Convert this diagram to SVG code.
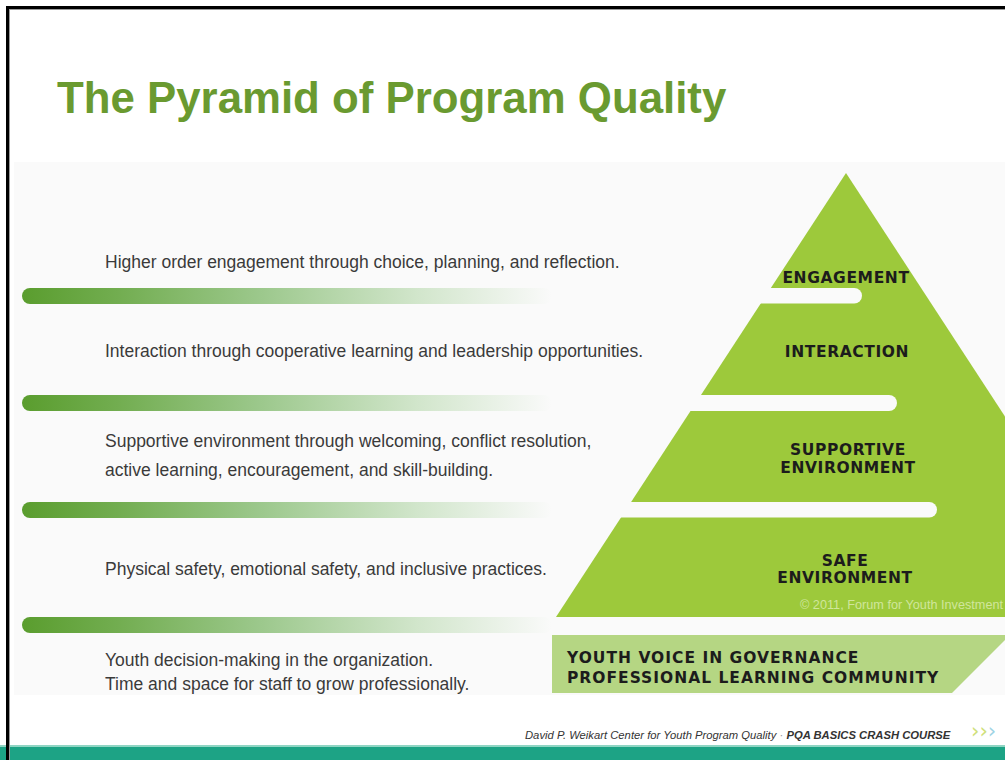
<svg xmlns="http://www.w3.org/2000/svg" width="1005" height="760" viewBox="0 0 1005 760">
  <defs>
    <linearGradient id="barGrad" x1="0" y1="0" x2="1" y2="0">
      <stop offset="0" stop-color="#5a9d2e"/>
      <stop offset="0.18" stop-color="#72ad50"/>
      <stop offset="0.45" stop-color="#9cc88c"/>
      <stop offset="0.75" stop-color="#d2e6cc"/>
      <stop offset="1" stop-color="#fafafa"/>
    </linearGradient>
    <style>
      .desc { font-family: "Liberation Sans", Arial, sans-serif; font-size: 17.5px; fill: #3a3a3a; }
      .tier { font-family: "DejaVu Sans", sans-serif; font-weight: bold; font-size: 15.5px; letter-spacing: 0.6px; fill: #1c1c1c; text-anchor: middle; }
      .base { font-family: "DejaVu Sans", sans-serif; font-weight: bold; font-size: 15.5px; letter-spacing: 1px; fill: #1c1c1c; }
      .bar { fill: url(#barGrad); }
      .gap { fill: #fafafa; }
    </style>
  </defs>

  <!-- page -->
  <rect x="0" y="0" width="1005" height="760" fill="#ffffff"/>
  <rect x="14" y="162" width="991" height="533" fill="#fafafa"/>

  <!-- title -->
  <text x="57" y="113" font-family="Liberation Sans, Arial, sans-serif" font-weight="bold" font-size="43.8" fill="#6a9a30">The Pyramid of Program Quality</text>

  <!-- gradient divider bars -->
  <g id="dividers">
    <rect class="bar" x="22" y="288" width="530" height="16" rx="8"/>
    <rect class="bar" x="22" y="395" width="530" height="16" rx="8"/>
    <rect class="bar" x="22" y="502" width="530" height="16" rx="8"/>
    <rect class="bar" x="22" y="617" width="530" height="16" rx="8"/>
  </g>

  <!-- descriptions -->
  <g id="descriptions">
    <text class="desc" x="105" y="268">Higher order engagement through choice, planning, and reflection.</text>
    <text class="desc" x="105" y="357">Interaction through cooperative learning and leadership opportunities.</text>
    <text class="desc" x="105" y="447">Supportive environment through welcoming, conflict resolution,</text>
    <text class="desc" x="105" y="476">active learning, encouragement, and skill-building.</text>
    <text class="desc" x="105" y="575">Physical safety, emotional safety, and inclusive practices.</text>
    <text class="desc" x="105" y="666">Youth decision-making in the organization.</text>
    <text class="desc" x="105" y="690">Time and space for staff to grow professionally.</text>
  </g>

  <!-- pyramid -->
  <g id="pyramid">
    <polygon points="846,173 556,617 1136,617" fill="#9dc93b"/>
    <rect class="gap" x="600" y="288" width="262" height="15.5" rx="7.75"/>
    <rect class="gap" x="600" y="395" width="297" height="16" rx="8"/>
    <rect class="gap" x="600" y="502" width="337" height="15.5" rx="7.75"/>
  </g>

  <g id="tier-engagement">
    <text class="tier" x="846" y="283">ENGAGEMENT</text>
  </g>
  <g id="tier-interaction">
    <text class="tier" x="847" y="357">INTERACTION</text>
  </g>
  <g id="tier-supportive">
    <text class="tier" x="848" y="455">SUPPORTIVE</text>
    <text class="tier" x="848" y="473">ENVIRONMENT</text>
  </g>
  <g id="tier-safe">
    <text class="tier" x="845" y="566">SAFE</text>
    <text class="tier" x="845" y="583">ENVIRONMENT</text>
    <text x="800" y="609" font-family="Liberation Sans, Arial, sans-serif" font-size="12.7" fill="#d0e69c">© 2011, Forum for Youth Investment</text>
  </g>

  <g id="tier-base">
    <polygon points="552,635 1010,635 952,693 552,693" fill="#b5d683"/>
    <text class="base" x="567" y="663">YOUTH VOICE IN GOVERNANCE</text>
    <text class="base" x="567" y="683">PROFESSIONAL LEARNING COMMUNITY</text>
  </g>

  <!-- footer -->
  <text x="525" y="739" font-family="Liberation Sans, Arial, sans-serif" font-style="italic" font-size="11.25" fill="#333333">David P. Weikart Center for Youth Program Quality <tspan fill="#999999">·</tspan> <tspan font-weight="bold">PQA BASICS CRASH COURSE</tspan></text>
  <text x="971" y="738" font-family="DejaVu Sans, sans-serif" font-size="21" fill="#cfe07a">››<tspan fill="#9fd4e4">›</tspan></text>

  <rect x="0" y="745" width="1005" height="2" fill="#8fd5c3"/>
  <rect x="0" y="747" width="1005" height="13" fill="#1da385"/>

  <!-- frame -->
  <rect x="9.5" y="9.5" width="1100" height="800" fill="none" stroke="#9a9a9a" stroke-width="1"/>
  <rect x="7.5" y="7.5" width="1100" height="800" fill="none" stroke="#000000" stroke-width="3"/>
</svg>
